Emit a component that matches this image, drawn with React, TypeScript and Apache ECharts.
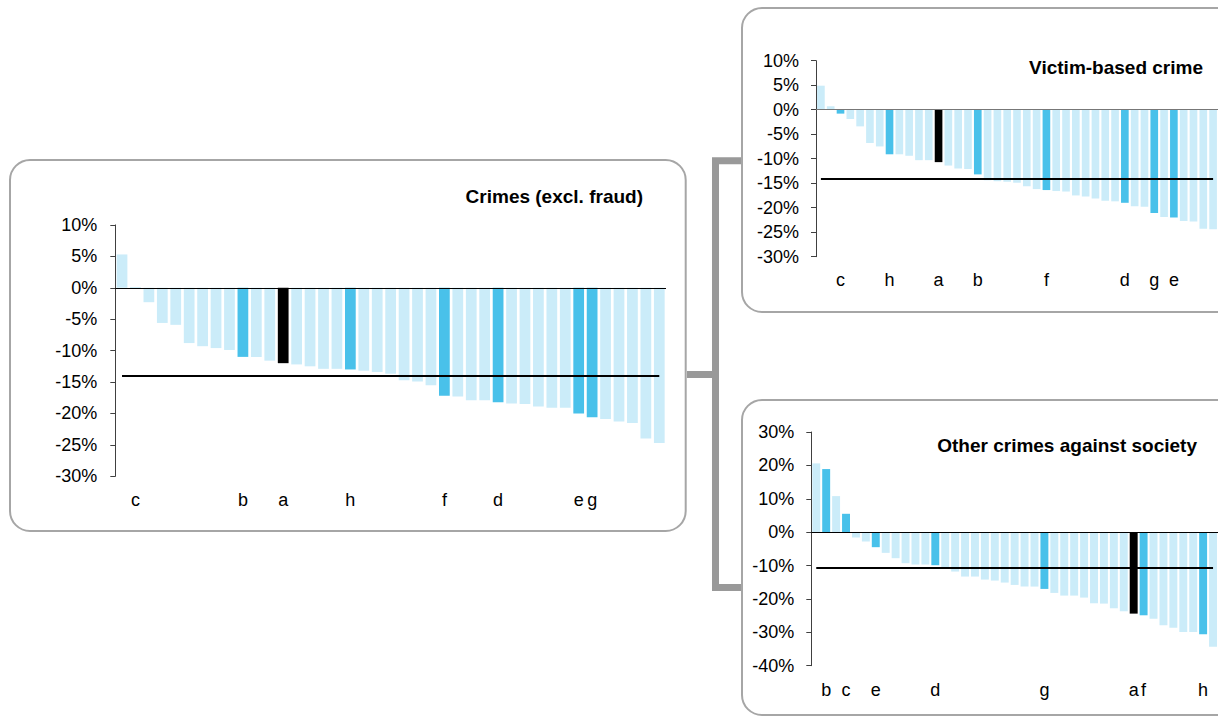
import React, { useEffect, useRef } from "react";
import * as echarts from "echarts";

// ---------- DATA ----------
const leftTitle = "Crimes (excl. fraud)";
const leftValues = [5.3, -0.2, -2.3, -5.6, -5.9, -8.8, -9.3, -9.6, -9.9, -11.0, -11.0, -11.6, -12.0, -12.2, -12.5, -12.9, -12.9, -13.0, -13.2, -13.4, -13.7, -14.7, -14.9, -15.5, -17.2, -17.3, -17.9, -17.9, -18.2, -18.4, -18.5, -18.9, -19.1, -19.1, -20.0, -20.6, -20.9, -21.3, -21.5, -24.0, -24.7];
const leftLabels = ["", "c", "", "", "", "", "", "", "", "b", "", "", "a", "", "", "", "", "h", "", "", "", "", "", "", "f", "", "", "", "d", "", "", "", "", "", "e", "g", "", "", "", "", ""];
const leftAverage = -14.0;
const leftTicks = { min: -30, max: 10, interval: 5 };

const victimTitle = "Victim-based crime";
const victimValues = [4.9, 0.7, -0.8, -1.9, -3.4, -6.8, -7.5, -9.1, -9.1, -9.4, -10.3, -10.3, -10.7, -11.4, -12.0, -12.1, -13.2, -14.4, -14.6, -14.7, -14.9, -15.6, -16.2, -16.4, -16.6, -16.7, -17.5, -17.7, -18.1, -18.6, -18.7, -19.0, -19.7, -19.8, -21.1, -21.9, -22.0, -22.7, -22.8, -24.3, -24.4];
const victimLabels = ["", "", "c", "", "", "", "", "h", "", "", "", "", "a", "", "", "", "b", "", "", "", "", "", "", "f", "", "", "", "", "", "", "", "d", "", "", "g", "", "e", "", "", "", ""];
const victimAverage = -14.0;
const victimTicks = { min: -30, max: 10, interval: 5 };

const otherTitle = "Other crimes against society";
const otherValues = [20.6, 18.9, 10.8, 5.5, -1.6, -2.8, -4.5, -6.2, -7.8, -9.3, -9.7, -9.7, -9.9, -10.5, -11.8, -13.3, -13.3, -14.2, -14.5, -15.1, -15.8, -16.3, -16.3, -17.0, -18.2, -19.0, -19.0, -19.6, -21.3, -21.4, -22.8, -23.7, -24.4, -24.9, -25.9, -27.9, -28.6, -29.9, -29.9, -30.6, -34.3];
const otherLabels = ["", "b", "", "c", "", "", "e", "", "", "", "", "", "d", "", "", "", "", "", "", "", "", "", "", "g", "", "", "", "", "", "", "", "", "a", "f", "", "", "", "", "", "h", ""];
const otherAverage = -10.8;
const otherTicks = { min: -40, max: 30, interval: 10 };

// ---------- STYLE ----------
const LIGHT = "#CBECF9";
const DARK = "#49C1EA";
const BLACK = "#000000";
const FONT = "'Liberation Sans', Arial, sans-serif";
const BOX = "#a6a6a6";
const CONNECT = "#999999";

function colorFor(label: string) {
  if (label === "a") return BLACK;
  if (label) return DARK;
  return LIGHT;
}

const App: React.FC = () => {
  const ref = useRef<HTMLDivElement>(null);

  useEffect(() => {
    if (!ref.current) return;
    const chart = echarts.init(ref.current, undefined, { renderer: "svg" });

    const panels = [
      { values: leftValues, labels: leftLabels, avg: leftAverage, ticks: leftTicks, zeroColor: "#000", grid: { left: 115.3, top: 224.9, width: 550.7, height: 251.4 }, gap: "20%", labelMargin: 15, yMargin: 18 },
      { values: victimValues, labels: victimLabels, avg: victimAverage, ticks: victimTicks, zeroColor: "#777", grid: { left: 816, top: 60.7, width: 403.2, height: 196 }, gap: "22%", labelMargin: 14, yMargin: 17 },
      { values: otherValues, labels: otherLabels, avg: otherAverage, ticks: otherTicks, zeroColor: "#000", grid: { left: 811.3, top: 432, width: 407, height: 233.7 }, gap: "20%", labelMargin: 15, yMargin: 17 },
    ];

    const option: any = {
      animation: false,
      grid: panels.map((p) => ({ ...p.grid, containLabel: false })),
      xAxis: panels.map((p, i) => ({
        type: "category",
        gridIndex: i,
        data: p.labels,
        axisLine: { show: false, onZero: false },
        axisTick: { show: false },
        axisLabel: { interval: 0, margin: p.labelMargin, fontSize: 18, fontFamily: FONT, color: "#000" },
        splitLine: { show: false },
      })),
      yAxis: panels.map((p, i) => ({
        type: "value",
        gridIndex: i,
        min: p.ticks.min,
        max: p.ticks.max,
        interval: p.ticks.interval,
        axisLine: { show: true, lineStyle: { color: "#404040", width: 1 } },
        axisTick: { show: true, length: 5, lineStyle: { color: "#404040" } },
        axisLabel: { margin: p.yMargin, fontSize: 18, fontFamily: FONT, color: "#000", formatter: (v: number) => v + "%" },
        splitLine: { show: false },
      })),
      series: panels.map((p, i) => ({
        type: "bar",
        xAxisIndex: i,
        yAxisIndex: i,
        barCategoryGap: p.gap,
        data: p.values.map((v, k) => ({ value: v, itemStyle: { color: colorFor(p.labels[k]) } })),
        markLine: {
          silent: true,
          symbol: "none",
          label: { show: false },
          data: [
            [
              { coord: [0, p.avg], lineStyle: { color: "#000", width: 2, type: "solid" } },
              { coord: [p.values.length - 1, p.avg] },
            ],
            { yAxis: 0, lineStyle: { color: p.zeroColor, width: 1, type: "solid" } },
          ],
        },
      })),
      graphic: [
        { type: "rect", shape: { x: 10, y: 160, width: 675.7, height: 371, r: 20 }, style: { fill: "none", stroke: BOX, lineWidth: 2 }, z: 0 },
        { type: "rect", shape: { x: 742, y: 8, width: 600, height: 304, r: 20 }, style: { fill: "none", stroke: BOX, lineWidth: 2 }, z: 0 },
        { type: "rect", shape: { x: 742, y: 400, width: 600, height: 315, r: 20 }, style: { fill: "none", stroke: BOX, lineWidth: 2 }, z: 0 },
        { type: "polyline", shape: { points: [[741, 160.8], [715.5, 160.8], [715.5, 587.5], [741, 587.5]] }, style: { fill: "none", stroke: CONNECT, lineWidth: 7, lineJoin: "miter" }, z: 0 },
        { type: "line", shape: { x1: 687, y1: 374.5, x2: 715.5, y2: 374.5 }, style: { stroke: CONNECT, lineWidth: 7 }, z: 0 },
        { type: "text", x: 643, y: 196, style: { text: leftTitle, fontSize: 19, fontWeight: "bold", fontFamily: FONT, fill: "#000", align: "right", verticalAlign: "middle" } },
        { type: "text", x: 1203, y: 67, style: { text: victimTitle, fontSize: 19, fontWeight: "bold", fontFamily: FONT, fill: "#000", align: "right", verticalAlign: "middle" } },
        { type: "text", x: 1197, y: 445, style: { text: otherTitle, fontSize: 19, fontWeight: "bold", fontFamily: FONT, fill: "#000", align: "right", verticalAlign: "middle" } },
      ],
    };

    chart.setOption(option);
    return () => chart.dispose();
  }, []);

  return <div ref={ref} style={{ position: "absolute", left: 0, top: 0, width: 1218, height: 717 }} />;
};

export default App;
